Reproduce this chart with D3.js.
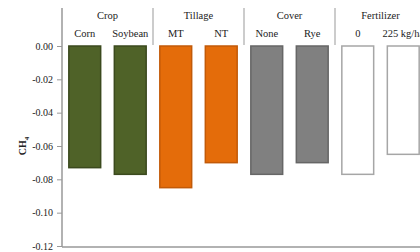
<html lang="en">
<head>
  <meta charset="UTF-8">
  <script src="https://d3js.org/d3.v7.min.js"></script>
  <style>
    body { margin: 0; background: #fff; }
    svg text { font-family: "Liberation Serif", "Times New Roman", Times, "DejaVu Serif", serif !important; fill: #222; }
  </style>
</head>
<body>
  <svg id="chart" width="420" height="252"></svg>
  <script>
    const groups = ["Crop", "Tillage", "Cover", "Fertilizer"];
    const categories = ["Corn", "Soybean", "MT", "NT", "None", "Rye", "0", "225 kg/ha"];
    const values = [-0.073, -0.077, -0.085, -0.070, -0.077, -0.070, -0.077, -0.065];
    const groupOf = [0, 0, 1, 1, 2, 2, 3, 3];
    const yTicks = [0, -0.02, -0.04, -0.06, -0.08, -0.10, -0.12];

    const fills = ["#4f6228", "#e46c0a", "#808080", "#ffffff"];
    const strokes = ["#3b4a1e", "#c25a08", "#666666", "#a6a6a6"];

    const svg = d3.select("#chart");
    const plotLeft = 62, plotTop = 46, plotBottom = 246;

    const x = d3.scaleBand()
      .domain(categories)
      .range([plotLeft, plotLeft + 364])
      .paddingInner(0.3)
      .paddingOuter(0.15);

    const y = d3.scaleLinear().domain([-0.12, 0]).range([plotBottom, plotTop]);

    // bars
    svg.selectAll("rect.bar")
      .data(categories)
      .enter()
      .append("rect")
      .attr("class", "bar")
      .attr("x", d => x(d))
      .attr("y", y(0))
      .attr("width", x.bandwidth())
      .attr("height", (d, i) => y(values[i]) - y(0))
      .attr("fill", (d, i) => fills[groupOf[i]])
      .attr("stroke", (d, i) => strokes[groupOf[i]])
      .attr("stroke-width", 1.5);

    // y axis, hyphen instead of unicode minus like the original
    const fmt = d => d3.format(".2f")(d).replace("\u2212", "-");
    const yAxis = svg.append("g")
      .attr("transform", `translate(${plotLeft},0)`)
      .call(d3.axisLeft(y).tickValues(yTicks).tickFormat(fmt).tickSize(5).tickSizeOuter(0));
    yAxis.select(".domain").remove();
    yAxis.selectAll(".tick line").attr("stroke", "#999");
    yAxis.selectAll(".tick text")
      .attr("x", -9)
      .style("font-size", "10px")
      .attr("fill", "#222");

    // axis lines
    svg.append("line")
      .attr("x1", plotLeft).attr("x2", plotLeft)
      .attr("y1", 8).attr("y2", plotBottom + 1)
      .attr("stroke", "#999").attr("stroke-width", 1.5);
    svg.append("line")
      .attr("x1", plotLeft).attr("x2", 420)
      .attr("y1", plotBottom + 1).attr("y2", plotBottom + 1)
      .attr("stroke", "#999").attr("stroke-width", 1.5);

    // group separators
    const step = x.step();
    [2, 4, 6].forEach(k => {
      svg.append("line")
        .attr("x1", plotLeft + k * step).attr("x2", plotLeft + k * step)
        .attr("y1", 8).attr("y2", plotTop - 1)
        .attr("stroke", "#aaa").attr("stroke-width", 1.2);
    });

    // group labels
    svg.selectAll("text.group")
      .data(groups)
      .enter()
      .append("text")
      .attr("class", "group")
      .attr("x", (d, i) => plotLeft + (i * 2 + 1) * step)
      .attr("y", 19)
      .attr("text-anchor", "middle")
      .style("font-size", "10.5px")
      .text(d => d);

    // category labels
    svg.selectAll("text.cat")
      .data(categories)
      .enter()
      .append("text")
      .attr("class", "cat")
      .attr("x", d => x(d) + x.bandwidth() / 2)
      .attr("y", 37)
      .attr("text-anchor", "middle")
      .style("font-size", "10.5px")
      .text(d => d);

    // y label
    const yl = svg.append("text")
      .attr("transform", "translate(26,146) rotate(-90)")
      .attr("text-anchor", "middle")
      .style("font-size", "10px")
      .style("font-weight", "bold");
    yl.append("tspan").text("CH");
    yl.append("tspan").attr("dy", 3).style("font-size", "7px").text("4");
  </script>
</body>
</html>
